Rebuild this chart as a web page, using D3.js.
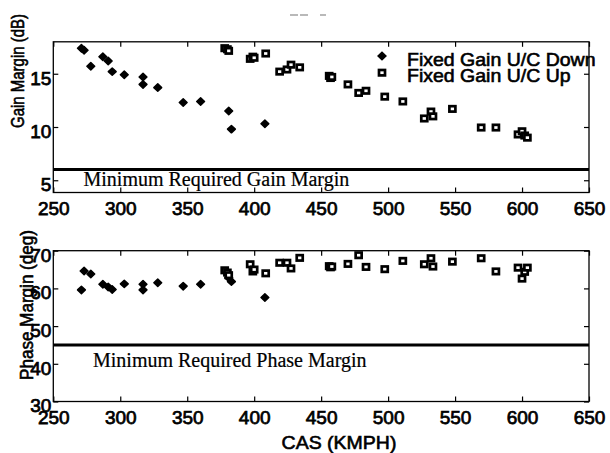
<!DOCTYPE html>
<html>
<head>
<meta charset="utf-8">
<script src="https://cdn.jsdelivr.net/npm/d3@7"></script>
<style>
  html, body { margin: 0; padding: 0; background: #fff; }
  svg { display: block; }
  text { font-family: "Liberation Sans", Arial, sans-serif; fill: #000; }
</style>
</head>
<body>
<script>
// Stability margins versus calibrated airspeed, undercarriage down / up
const xTicks = [250, 300, 350, 400, 450, 500, 550, 600, 650];
const gainTicks = [5, 10, 15];
const phaseTicks = [30, 40, 50, 60, 70];

const gainLimit = 6;    // dB
const phaseLimit = 45;  // deg

// Fixed gain, undercarriage down
const casDown   = [271, 273, 278, 287, 291, 294, 303, 317, 317, 328, 347, 360, 381, 383, 408];
const gainDown  = [17.4, 17.2, 15.7, 16.6, 16.2, 15.2, 14.9, 14.7, 14.0, 13.7, 12.3, 12.4, 11.5, 9.8, 10.3];
const phaseDown = [59.6, 64.6, 63.8, 61.1, 60.4, 59.7, 61.2, 61.1, 59.6, 61.5, 60.6, 61.1, 62.8, 61.8, 57.6];

// Fixed gain, undercarriage up
const casUp   = [378, 380, 381, 397, 399, 400, 408.6, 419, 424.5, 427.5, 434, 456, 457, 458, 470, 478, 483.5,
                 497.5, 511, 527, 532, 533.5, 548, 569.5, 580.5, 597, 600, 602, 604];
const gainUp  = [17.4, 17.3, 17.15, 16.4, 16.6, 16.5, 16.9, 15.2, 15.4, 15.85, 15.6, 14.8, 14.6, 14.7, 14.0, 13.2, 13.4,
                 12.85, 12.4, 10.8, 11.45, 11.0, 11.7, 9.95, 9.95, 9.3, 9.6, 9.2, 9.0];
const phaseUp = [64.8, 64.2, 63.5, 66.4, 64.5, 65.0, 64.0, 66.8, 66.8, 65.3, 68.1, 65.9, 65.6, 65.8, 66.5, 68.8, 65.7,
                 65.1, 67.3, 66.4, 68.0, 65.8, 67.1, 68.0, 64.5, 65.5, 62.6, 64.4, 65.5];

const legendLabels = ["Fixed Gain U/C Down", "Fixed Gain U/C Up"];

const W = 610, H = 453;
const svg = d3.select("body").append("svg").attr("width", W).attr("height", H);
svg.append("rect").attr("width", W).attr("height", H).attr("fill", "#fff");

const x = d3.scaleLinear().domain([250, 650]).range([53.3, 589]);
const yGain = d3.scaleLinear().domain([3.85, 18]).range([192.5, 41.8]);
const yPhase = d3.scaleLinear().domain([30, 70]).range([401.5, 250.7]);

const diamondPath = "M0,-3.7L3.9,0L0,3.7L-3.9,0Z";

function drawMarkers(g, xs, ys, y, kind) {
  const pts = xs.map((v, i) => [x(v), y(ys[i])]);
  if (kind === "down") {
    g.selectAll(null).data(pts).enter().append("path")
      .attr("d", diamondPath)
      .attr("transform", d => `translate(${d[0]},${d[1]})`)
      .attr("fill", "#000").attr("stroke", "#000")
      .attr("stroke-width", 1.5).attr("stroke-linejoin", "round");
  } else {
    g.selectAll(null).data(pts).enter().append("rect")
      .attr("x", d => d[0] - 3).attr("y", d => d[1] - 2.7)
      .attr("width", 6).attr("height", 5.4)
      .attr("fill", "#fff").attr("stroke", "#000").attr("stroke-width", 2.7);
  }
}

function drawPanel(y, yTicks, limit, limitLabel, labelPos) {
  const g = svg.append("g");
  const [x0, x1] = x.range();
  const [yb, yt] = y.range();

  // reference limit line
  g.append("line")
    .attr("x1", x0).attr("x2", x1)
    .attr("y1", y(limit)).attr("y2", y(limit))
    .attr("stroke", "#000").attr("stroke-width", 3);

  g.append("text")
    .attr("x", labelPos[0]).attr("y", labelPos[1])
    .style("font-family", "'Liberation Serif', 'Times New Roman', serif")
    .style("font-size", "20px")
    .attr("stroke", "#000").attr("stroke-width", 0.2)
    .text(limitLabel);

  // axes with inward ticks on all four sides
  g.append("g").attr("transform", `translate(0,${yb})`)
    .call(d3.axisBottom(x).tickValues(xTicks).tickSizeInner(-5).tickSizeOuter(0).tickPadding(9));
  g.append("g").attr("transform", `translate(0,${yt})`)
    .call(d3.axisTop(x).tickValues(xTicks).tickSizeInner(-5).tickSizeOuter(0).tickFormat(""));
  const left = g.append("g").attr("transform", `translate(${x0},0)`)
    .call(d3.axisLeft(y).tickValues(yTicks).tickSizeInner(-5).tickSizeOuter(0).tickPadding(2));
  g.append("g").attr("transform", `translate(${x1},0)`)
    .call(d3.axisRight(y).tickValues(yTicks).tickSizeInner(-5).tickSizeOuter(0).tickFormat(""));

  g.selectAll(".domain").remove();
  g.selectAll(".tick line").attr("stroke", "#000").attr("stroke-width", 1.2);
  g.selectAll(".tick text")
    .style("font-family", "'Liberation Sans', Arial, sans-serif")
    .style("font-size", "19px")
    .attr("stroke", "#000").attr("stroke-width", 0.75);
  left.selectAll(".tick text").attr("dy", "0.55em");

  // frame
  g.append("rect")
    .attr("x", x0).attr("y", yt)
    .attr("width", x1 - x0).attr("height", yb - yt)
    .attr("fill", "none").attr("stroke", "#000").attr("stroke-width", 1.3);
  return g;
}

// Upper panel: gain margin
const gTop = drawPanel(yGain, gainTicks, gainLimit, "Minimum Required Gain Margin", [83.5, 185.5]);
drawMarkers(gTop, casDown, gainDown, yGain, "down");
drawMarkers(gTop, casUp, gainUp, yGain, "up");

// Lower panel: phase margin
const gBot = drawPanel(yPhase, phaseTicks, phaseLimit, "Minimum Required Phase Margin", [93, 366.5]);
drawMarkers(gBot, casDown, phaseDown, yPhase, "down");
drawMarkers(gBot, casUp, phaseUp, yPhase, "up");

// Legend in the upper panel
const leg = svg.append("g");
leg.append("path").attr("d", diamondPath)
  .attr("transform", "translate(382,56)")
  .attr("fill", "#000").attr("stroke", "#000").attr("stroke-width", 1.5);
leg.append("rect").attr("x", 379).attr("y", 70).attr("width", 6).attr("height", 5.4)
  .attr("fill", "#fff").attr("stroke", "#000").attr("stroke-width", 2.7);
legendLabels.forEach((t, i) => {
  leg.append("text")
    .attr("transform", `translate(407,${66 + i * 15.7}) scale(1,0.9)`)
    .style("font-size", "19.5px")
    .attr("stroke", "#000").attr("stroke-width", 0.65)
    .text(t);
});

// Axis titles
svg.append("text")
  .attr("transform", "translate(24,71) rotate(-90)")
  .attr("text-anchor", "middle")
  .attr("textLength", 114).attr("lengthAdjust", "spacingAndGlyphs")
  .style("font-size", "18px")
  .attr("stroke", "#000").attr("stroke-width", 0.6)
  .text("Gain Margin (dB)");

svg.append("text")
  .attr("transform", "translate(33,305) rotate(-90)")
  .attr("text-anchor", "middle")
  .attr("textLength", 150).attr("lengthAdjust", "spacingAndGlyphs")
  .style("font-size", "18.5px")
  .attr("stroke", "#000").attr("stroke-width", 0.6)
  .text("Phase Margin (deg)");

svg.append("text")
  .attr("transform", "translate(339,449) scale(1,0.9)")
  .attr("text-anchor", "middle")
  .style("font-size", "19.5px")
  .attr("stroke", "#000").attr("stroke-width", 0.65)
  .text("CAS (KMPH)");

// faint remnants of the clipped heading
svg.append("g").attr("stroke", "#8a8a8a").attr("stroke-width", 1.2)
  .selectAll("line").data([[290, 298], [300, 308], [320, 326]]).enter().append("line")
  .attr("x1", d => d[0]).attr("x2", d => d[1]).attr("y1", 15).attr("y2", 15);
</script>
</body>
</html>
